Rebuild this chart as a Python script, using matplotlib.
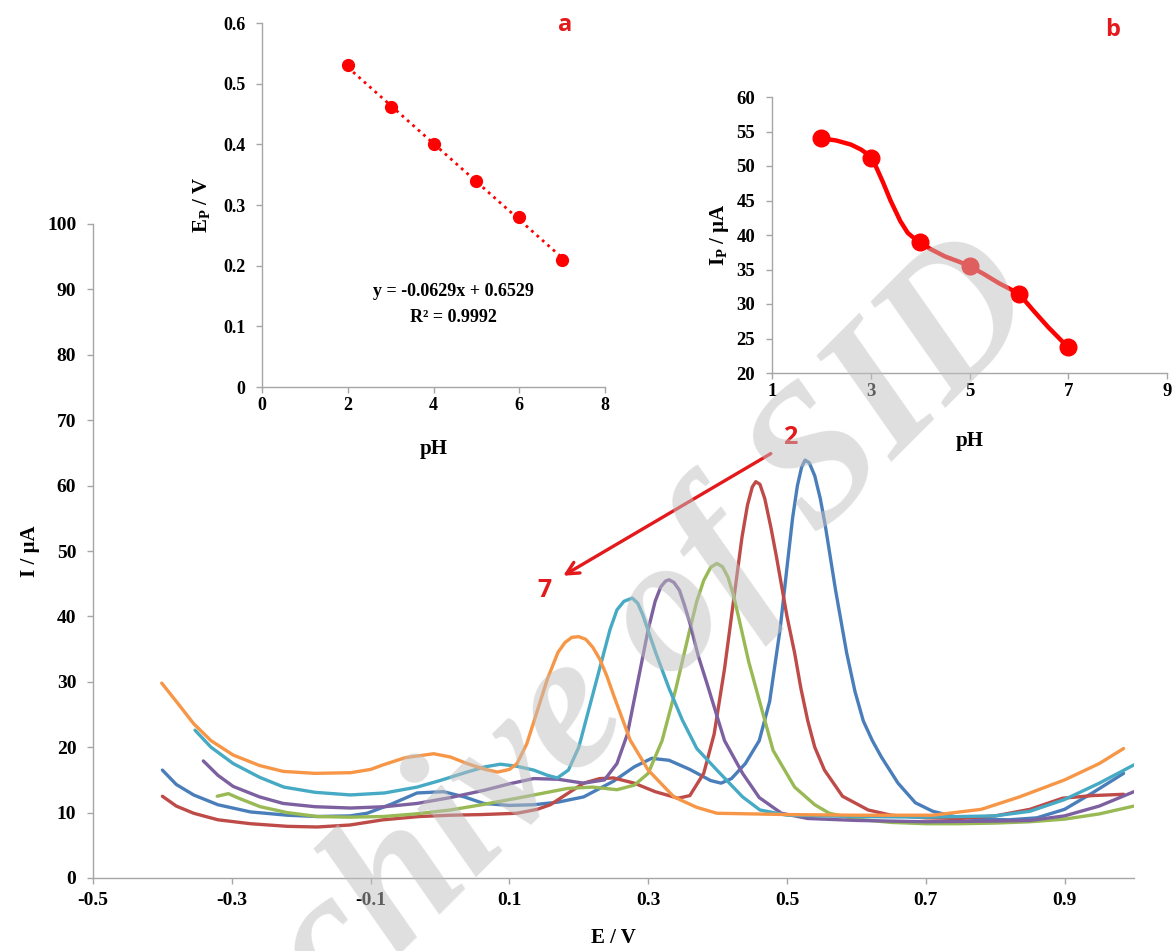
import matplotlib
matplotlib.use("Agg")
import matplotlib.pyplot as plt

# ---------------- data ----------------
# main voltammograms (E / V, I / uA), one per pH
E_ph2 = [-0.40, -0.38, -0.355, -0.32, -0.273, -0.22, -0.177, -0.13, -0.105, -0.07, -0.033, 0.005, 0.035,
         0.063, 0.10, 0.135, 0.17, 0.207, 0.25, 0.28, 0.305, 0.33, 0.36, 0.39, 0.405, 0.42, 0.44, 0.46,
         0.475, 0.49, 0.50, 0.508, 0.515, 0.521, 0.526, 0.532, 0.54, 0.548, 0.555, 0.57, 0.586, 0.598,
         0.61, 0.623, 0.636, 0.66, 0.685, 0.71, 0.741, 0.78, 0.82, 0.86, 0.90, 0.94, 0.985]
I_ph2 = [16.5, 14.3, 12.7, 11.2, 10.1, 9.6, 9.4, 9.5, 9.9, 11.3, 13.0, 13.2, 12.4,
         11.4, 11.1, 11.2, 11.6, 12.4, 14.8, 17.0, 18.3, 18.0, 16.6, 14.9, 14.5, 15.2, 17.5, 21.0,
         27.0, 38.0, 47.5, 55.0, 60.0, 62.8, 63.9, 63.5, 61.5, 58.0, 54.0, 44.0, 34.4, 28.5,
         24.0, 21.0, 18.5, 14.5, 11.5, 10.2, 9.4, 9.0, 8.9, 9.2, 10.5, 13.0, 16.0]

E_ph3 = [-0.40, -0.38, -0.355, -0.32, -0.273, -0.22, -0.177, -0.13, -0.082, -0.03, 0.015, 0.06, 0.111,
         0.14, 0.159, 0.185, 0.207, 0.23, 0.25, 0.28, 0.31, 0.343, 0.36, 0.38, 0.395, 0.41, 0.425,
         0.435, 0.443, 0.45, 0.455, 0.461, 0.468, 0.477, 0.485, 0.50, 0.511, 0.52, 0.53, 0.54, 0.554,
         0.58, 0.617, 0.65, 0.70, 0.75, 0.80, 0.85, 0.897, 0.94, 0.985]
I_ph3 = [12.5, 11.0, 9.9, 8.9, 8.3, 7.9, 7.8, 8.1, 8.9, 9.4, 9.6, 9.7, 9.9,
         10.5, 11.2, 13.0, 14.5, 15.2, 15.3, 14.5, 13.2, 12.2, 12.6, 16.0, 22.0, 32.0, 44.0,
         52.0, 57.0, 59.8, 60.6, 60.2, 58.0, 53.5, 49.0, 40.0, 34.4, 29.0, 24.0, 20.0, 16.5,
         12.5, 10.4, 9.6, 9.2, 9.1, 9.5, 10.5, 12.2, 12.6, 12.8]

E_ph4 = [-0.321, -0.305, -0.29, -0.259, -0.22, -0.177, -0.13, -0.082, -0.035, 0.015, 0.06, 0.111, 0.15,
         0.184, 0.22, 0.255, 0.28, 0.30, 0.32, 0.34, 0.36, 0.37, 0.38, 0.39, 0.399, 0.407, 0.415,
         0.423, 0.43, 0.445, 0.461, 0.48, 0.511, 0.54, 0.561, 0.60, 0.65, 0.70, 0.75, 0.80, 0.85,
         0.90, 0.95, 1.0]
I_ph4 = [12.5, 12.9, 12.2, 10.9, 10.0, 9.4, 9.3, 9.4, 9.8, 10.4, 11.2, 12.2, 13.0,
         13.7, 13.9, 13.5, 14.2, 16.0, 21.0, 29.0, 38.0, 42.3, 45.5, 47.5, 48.1, 47.6, 46.0,
         43.2, 40.0, 33.0, 26.8, 19.5, 13.9, 11.2, 9.9, 9.0, 8.5, 8.3, 8.3, 8.4, 8.6,
         9.0, 9.8, 11.0]

E_ph5 = [-0.341, -0.32, -0.298, -0.26, -0.226, -0.18, -0.129, -0.08, -0.033, 0.015, 0.063, 0.10, 0.135,
         0.17, 0.207, 0.237, 0.255, 0.27, 0.285, 0.30, 0.31, 0.318, 0.325, 0.33, 0.337, 0.345, 0.352,
         0.36, 0.372, 0.386, 0.41, 0.436, 0.46, 0.492, 0.53, 0.60, 0.70, 0.80, 0.85, 0.90, 0.95, 1.0]
I_ph5 = [17.9, 15.7, 14.0, 12.4, 11.4, 10.9, 10.7, 10.9, 11.4, 12.3, 13.4, 14.4, 15.2,
         15.1, 14.5, 15.0, 17.5, 22.0, 30.0, 38.0, 42.3, 44.5, 45.4, 45.6, 45.2, 44.0, 41.8,
         39.0, 34.0, 29.3, 21.0, 16.0, 12.3, 9.9, 9.1, 8.8, 8.6, 8.7, 8.8, 9.5, 11.0, 13.2]

E_ph6 = [-0.353, -0.33, -0.298, -0.26, -0.225, -0.18, -0.129, -0.08, -0.033, 0.00, 0.039, 0.065, 0.087,
         0.11, 0.135, 0.155, 0.169, 0.185, 0.20, 0.215, 0.23, 0.245, 0.255, 0.265, 0.277, 0.285, 0.292,
         0.30, 0.311, 0.33, 0.349, 0.37, 0.399, 0.436, 0.461, 0.50, 0.60, 0.70, 0.80, 0.85, 0.90,
         0.95, 1.0]
I_ph6 = [22.6, 20.0, 17.5, 15.4, 13.9, 13.1, 12.7, 13.0, 13.9, 14.9, 16.2, 17.0, 17.4,
         17.1, 16.5, 15.7, 15.3, 16.5, 20.0, 26.0, 32.0, 38.0, 41.0, 42.3, 42.8, 42.0, 40.3,
         37.8, 34.4, 29.0, 24.2, 19.8, 16.5, 12.4, 10.4, 9.6, 9.4, 9.3, 9.5, 10.2, 12.0,
         14.5, 17.3]

E_ph7 = [-0.401, -0.38, -0.355, -0.33, -0.298, -0.26, -0.226, -0.18, -0.129, -0.10, -0.082, -0.05, -0.009,
         0.015, 0.039, 0.065, 0.083, 0.10, 0.111, 0.125, 0.14, 0.155, 0.17, 0.18, 0.19, 0.20, 0.21,
         0.22, 0.23, 0.24, 0.25, 0.274, 0.30, 0.337, 0.37, 0.399, 0.50, 0.60, 0.71, 0.78, 0.835,
         0.90, 0.95, 0.985]
I_ph7 = [29.8, 27.0, 23.6, 21.0, 18.8, 17.2, 16.3, 16.0, 16.1, 16.6, 17.3, 18.4, 19.0,
         18.5, 17.5, 16.6, 16.2, 16.6, 17.5, 20.5, 25.5, 30.5, 34.5, 36.0, 36.8, 36.9, 36.5,
         35.3, 33.5, 31.0, 28.0, 21.1, 16.5, 12.4, 10.8, 9.9, 9.7, 9.6, 9.6, 10.5, 12.4,
         15.0, 17.5, 19.8]

curve_colors = ["#4A7EBB", "#BE4B48", "#98B954", "#7D60A0", "#46AAC5", "#F79646"]

# inset a: peak potential vs pH
pH_a = [2, 3, 4, 5, 6, 7]
Ep = [0.530, 0.462, 0.401, 0.340, 0.280, 0.210]
trend_x = [2, 7]
trend_y = [0.527, 0.213]
eq_text = "y = -0.0629x + 0.6529"
r2_text = "R² = 0.9992"

# inset b: peak current vs pH
pH_b = [2, 3, 4, 5, 6, 7]
Ip = [54.0, 51.2, 39.0, 35.5, 31.5, 23.7]
# smooth line
line_b_x = [2.0, 2.3, 2.6, 2.8, 2.92, 3.0, 3.1, 3.25, 3.4, 3.6, 3.75, 3.9, 4.0, 4.2, 4.5, 4.8, 5.0,
            5.3, 5.6, 6.0, 6.3, 6.6, 7.0]
line_b_y = [54.0, 53.7, 53.1, 52.4, 51.8, 51.2, 50.0, 47.6, 45.0, 42.0, 40.3, 39.4, 39.0, 38.0, 36.9,
            36.1, 35.5, 34.3, 33.0, 31.5, 29.0, 26.6, 23.7]

main_xticks = [-0.5, -0.3, -0.1, 0.1, 0.3, 0.5, 0.7, 0.9]
main_yticks = [0, 10, 20, 30, 40, 50, 60, 70, 80, 90, 100]

# ---------------- style ----------------
plt.rcParams["font.family"] = ["Liberation Serif", "DejaVu Serif"]
plt.rcParams["font.weight"] = "bold"
plt.rcParams["mathtext.fontset"] = "custom"
plt.rcParams["mathtext.rm"] = "Liberation Serif:bold"
plt.rcParams["mathtext.it"] = "Liberation Serif:bold"
plt.rcParams["mathtext.bf"] = "Liberation Serif:bold"

SPINE = "#A6A6A6"
RED = "#FF0000"
ARED = "#E3191C"

W, H = 1175, 951
fig = plt.figure(figsize=(W / 100, H / 100), dpi=100)


def px_axes(l, t, r, b):
    return fig.add_axes([l / W, 1 - b / H, (r - l) / W, (b - t) / H])


def style_axes(a, fs):
    for s in ["top", "right"]:
        a.spines[s].set_visible(False)
    for s in ["left", "bottom"]:
        a.spines[s].set_color(SPINE)
        a.spines[s].set_linewidth(1.0)
    a.tick_params(axis="both", colors=SPINE, length=4, width=1, labelsize=fs,
                  labelcolor="black", direction="out")
    for lab in a.get_xticklabels() + a.get_yticklabels():
        lab.set_fontweight("bold")
    a.set_facecolor("white")


# ---------------- main axes ----------------
ax = px_axes(93, 224, 1134, 878)
series = [(E_ph2, I_ph2), (E_ph3, I_ph3), (E_ph4, I_ph4), (E_ph5, I_ph5), (E_ph6, I_ph6), (E_ph7, I_ph7)]
for (e, i), c in zip(series, curve_colors):
    ax.plot(e, i, color=c, lw=2.4, solid_capstyle="round", solid_joinstyle="round")
ax.set_xlim(-0.5, 1.0)
ax.set_ylim(0, 100)
ax.set_xticks(main_xticks)
ax.set_xticklabels([f"{v:.1f}" for v in main_xticks])
ax.set_yticks(main_yticks)
ax.set_yticklabels([str(v) for v in main_yticks])
style_axes(ax, 14)
ax.tick_params(axis="y", pad=8)
ax.tick_params(axis="x", pad=6)
ax.set_xlabel("E / V", fontsize=15, fontweight="bold", labelpad=14)
ax.set_ylabel("I / µA", fontsize=15, fontweight="bold", labelpad=5)

ax.annotate("", xy=(0.174, 46.0), xytext=(0.48, 65.1),
            arrowprops=dict(arrowstyle="->", color=ARED, lw=2.4, mutation_scale=22))
ax.text(0.505, 67.4, "2", color=ARED, fontsize=18, family="Open Sans", fontweight="bold",
        ha="center", va="center")
ax.text(0.151, 44.0, "7", color=ARED, fontsize=18, family="Open Sans", fontweight="bold",
        ha="center", va="center")

# ---------------- inset a ----------------
axa = px_axes(262, 23, 605, 387)
axa.plot(trend_x, trend_y, color=RED, lw=2.0, ls=(0, (1, 1.6)))
axa.plot(pH_a, Ep, "o", color=RED, ms=8.5, mec=RED)
axa.set_xlim(0, 8)
axa.set_ylim(0, 0.6)
axa.set_xticks([0, 2, 4, 6, 8])
axa.set_yticks([0, 0.1, 0.2, 0.3, 0.4, 0.5, 0.6])
axa.set_yticklabels(["0", "0.1", "0.2", "0.3", "0.4", "0.5", "0.6"])
style_axes(axa, 13)
axa.tick_params(axis="y", pad=8)
axa.set_xlabel("pH", fontsize=15, fontweight="bold", labelpad=18)
axa.set_ylabel(r"E$_{\rm P}$ / V", fontsize=15, fontweight="bold", labelpad=8)
axa.text(4.47, 0.157, eq_text, fontsize=13, fontweight="bold", ha="center", va="center")
axa.text(4.47, 0.114, r2_text, fontsize=13, fontweight="bold", ha="center", va="center")

# ---------------- inset b ----------------
axb = px_axes(772, 97, 1167, 373)
axb.plot(line_b_x, line_b_y, color=RED, lw=3.2, solid_capstyle="round", solid_joinstyle="round")
axb.plot(pH_b, Ip, "o", color=RED, ms=12, mec=RED)
axb.set_xlim(1, 9)
axb.set_ylim(20, 60)
axb.set_xticks([1, 3, 5, 7, 9])
axb.set_yticks([20, 25, 30, 35, 40, 45, 50, 55, 60])
style_axes(axb, 13.5)
axb.tick_params(axis="y", pad=8)
axb.set_xlabel("pH", fontsize=15, fontweight="bold", labelpad=22)
axb.set_ylabel(r"I$_{\rm P}$ / µA", fontsize=15, fontweight="bold", labelpad=4)

# panel letters
fig.text(565 / W, 1 - 25 / H, "a", color=ARED, fontsize=17, family="Open Sans",
         ha="center", va="center")
fig.text(1113 / W, 1 - 30 / H, "b", color=ARED, fontsize=17, family="Open Sans",
         ha="center", va="center")

# watermark
fig.text(0.50, 0.255, "Archive of SID", rotation=45, fontsize=140, fontweight="bold",
         style="italic", family="Liberation Serif", color="#BFBFBF", alpha=0.5,
         ha="center", va="center", zorder=10)

fig.savefig("out.png", dpi=100)
